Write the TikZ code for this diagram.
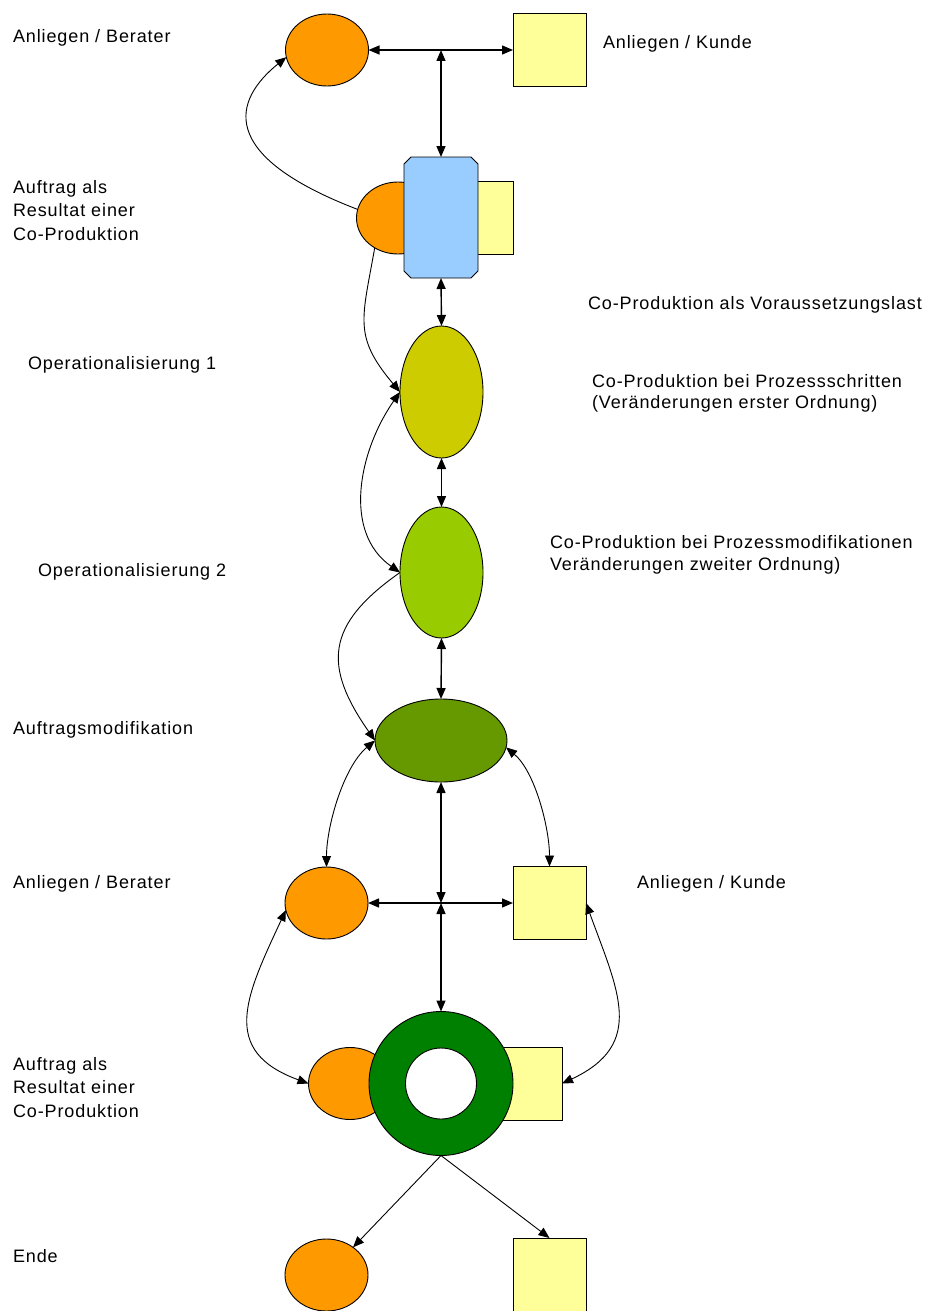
\documentclass[tikz,border=0pt]{standalone}
\usepackage{fontspec}
\setmainfont{Liberation Sans}[LetterSpace=5]
\usetikzlibrary{arrows.meta,shapes.geometric}

\definecolor{orangeF}{HTML}{FF9900}
\definecolor{yellowF}{HTML}{FFFF99}
\definecolor{blueF}{HTML}{99CCFF}
\definecolor{oliveF}{HTML}{CCCC00}
\definecolor{limeF}{HTML}{99CC00}
\definecolor{mossF}{HTML}{669900}
\definecolor{greenF}{HTML}{008000}

\begin{document}
\begin{tikzpicture}[x=1pt,y=-1pt,
  >={Triangle[length=11pt,width=9pt]},
  every node/.style={inner sep=0pt, outer sep=0pt},
  berater/.style={ellipse, draw=black, line width=0.9pt, fill=orangeF,
                  minimum width=83pt, minimum height=72pt},
  kunde/.style={rectangle, draw=black, line width=0.9pt, fill=yellowF,
                minimum size=73pt},
  phase/.style={ellipse, draw=black, line width=0.9pt},
  lbl/.style={anchor=base west, font=\fontsize{18}{23.5}\selectfont, align=left},
  lblr/.style={lbl, font=\fontsize{18}{21.5}\selectfont},
  link/.style={line width=1.4pt},
  arc/.style={line width=0.9pt},
]
% canvas
\path[use as bounding box, fill=white] (0,0) rectangle (930,1311);

% ---------- first request ----------
\node[berater] (A1) at (327,50) {};
\node[kunde]   (K1) at (549.5,50) {};
\coordinate (J1) at (441,50);

% contract: client ellipse and customer square behind the blue box
\node[berater] (OB1) at (398,218) {};
\node[kunde]   (YB1) at (476.5,218) {};
\node[rectangle, minimum width=74pt, minimum height=121pt] (BX) at (441,217.5) {};
\draw[line width=0.9pt, fill=blueF]
  ([xshift=7pt]BX.north west) -- ([xshift=-7pt]BX.north east)
  -- ([yshift=-7pt]BX.north east) -- ([yshift=7pt]BX.south east)
  -- ([xshift=-7pt]BX.south east) -- ([xshift=7pt]BX.south west)
  -- ([yshift=7pt]BX.south west) -- ([yshift=-7pt]BX.north west) -- cycle;

% ---------- process phases ----------
\node[phase, fill=oliveF, minimum width=83pt, minimum height=132pt] (O1) at (441.5,392) {};
\node[phase, fill=limeF,  minimum width=83pt, minimum height=131pt] (O2) at (441.5,572.5) {};
\node[phase, fill=mossF,  minimum width=132pt, minimum height=83pt] (M)  at (441,740.5) {};

% ---------- second request ----------
\node[berater] (B1) at (326.5,903) {};
\node[kunde]   (KB) at (549.5,903) {};
\coordinate (J2) at (441,903);

\node[berater] (OB2) at (350,1083.5) {};
\node[kunde]   (YB2) at (525.5,1083.5) {};
\node[circle, draw=black, line width=0.9pt, fill=greenF, minimum size=144pt] (R) at (441,1083.5) {};
\node[circle, draw=black, line width=0.9pt, fill=white, minimum size=71pt] (RI) at (441,1083.5) {};

% ---------- end ----------
\node[berater] (E1) at (326.5,1275) {};
\node[kunde]   (E2) at (549.5,1274.5) {};

% ---------- straight connectors ----------
\draw[link,<->] (A1.east) -- (K1.west);
\draw[link,<->] (J1) -- (BX.north);
\draw[link,<->] (BX.south) -- (O1.north);
\draw[link,<->] (O1.south) -- (O2.north);
\draw[link,<->] (O2.south) -- (M.north);
\draw[link,<->] (M.south) -- (J2);
\draw[link,<->] (J2) -- (R.north);
\draw[link,<->] (B1.east) -- (KB.west);
\draw[arc,->] (R.south) -- (E1);
\draw[arc,->] (R.south) -- (E2.north);

% ---------- curved connectors ----------
\draw[arc,->]  (OB1.168) to[out=159, in=219, out distance=152pt, in distance=68pt] (A1.190);
\draw[arc,->]  (OB1.232) to[out=-100, in=130, distance=73pt] (O1.west);
\draw[arc,<->] (O1.west) to[out=235, in=145, distance=71pt] (O2.west);
\draw[arc,->]  (O2.west) to[out=215, in=125, distance=91pt] (M.west);
\draw[arc,<->] (M.west)  to[out=220, in=90, distance=41pt] (B1.north);
\draw[arc,<->] (M.-6)    to[out=-40, in=90, distance=38pt] (KB.north);
\draw[arc,<->] (B1.190)  to[out=245, in=160, distance=95pt] (OB2.west);
\draw[arc,<->] (KB.east) to[out=-70, in=25, distance=93pt] (YB2.east);

% ---------- labels ----------
\node[lbl]  (t1)  at (13,43)    {Anliegen / Berater};
\node[lbl]  (t2)  at (603,49)   {Anliegen / Kunde};
\node[lbl]  (t3)  at (13,240)   {Auftrag als\\Resultat einer\\Co-Produktion};
\node[lblr] (t4)  at (588,309)  {Co-Produktion als Voraussetzungslast};
\node[lbl]  (t5)  at (28,369)   {Operationalisierung 1};
\node[lblr] (t6)  at (592,408.5){Co-Produktion bei Prozessschritten\\(Veränderungen erster Ordnung)};
\node[lblr] (t8)  at (550,570)  {Co-Produktion bei Prozessmodifikationen\\Veränderungen zweiter Ordnung)};
\node[lbl]  (t7)  at (38,576)   {Operationalisierung 2};
\node[lbl]  (t9)  at (13,734)   {Auftragsmodifikation};
\node[lbl]  (t10) at (13,888)   {Anliegen / Berater};
\node[lbl]  (t11) at (637,888)  {Anliegen / Kunde};
\node[lbl]  (t12) at (13,1117)  {Auftrag als\\Resultat einer\\Co-Produktion};
\node[lbl]  (t13) at (13,1262)  {Ende};
\end{tikzpicture}
\end{document}
